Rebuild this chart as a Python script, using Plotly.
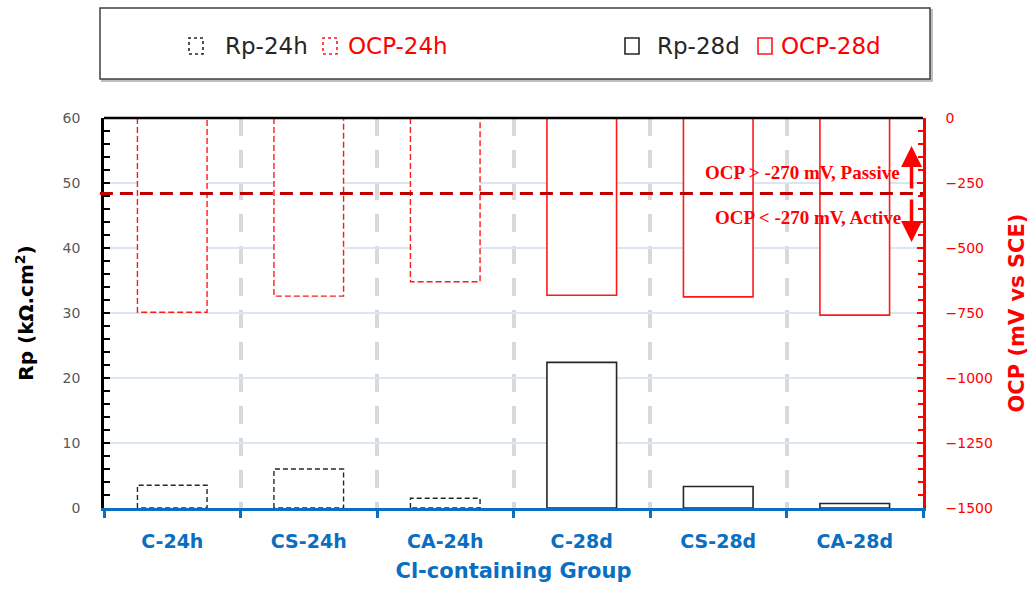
import plotly.graph_objects as go

# ---------------- data ----------------
categories = ["C-24h", "CS-24h", "CA-24h", "C-28d", "CS-28d", "CA-28d"]
idx_24h = [0, 1, 2]
idx_28d = [3, 4, 5]
rp_24h = [3.5, 6.0, 1.5]          # kOhm.cm2
rp_28d = [22.4, 3.3, 0.7]
ocp_24h = [-747, -685, -630]      # mV vs SCE
ocp_28d = [-682, -688, -758]
ocp_threshold_line = -290         # position of the dashed threshold line as drawn
ocp_arrow_up = [-277, -108]
ocp_arrow_down = [-308, -477]
rp_ticks = [0, 10, 20, 30, 40, 50, 60]
ocp_ticks = [-1500, -1250, -1000, -750, -500, -250, 0]
series_names = ["Rp-24h", "OCP-24h", "Rp-28d", "OCP-28d"]

BW = 0.51
BLACK = "#262626"
RED = "#ff1a1a"
BLUE = "#0a6fc2"


def outline(xs, vals):
    ox, oy = [], []
    for x, v in zip(xs, vals):
        ox += [x - BW / 2, x - BW / 2, x + BW / 2, x + BW / 2, x - BW / 2, None]
        oy += [0, v, v, 0, 0, None]
    return ox, oy


fig = go.Figure()

# white-filled bars
fig.add_trace(go.Bar(x=idx_24h, y=rp_24h, width=BW, name=series_names[0], yaxis="y",
                     marker=dict(color="white", line=dict(width=0)), showlegend=False))
fig.add_trace(go.Bar(x=idx_28d, y=rp_28d, width=BW, name=series_names[2], yaxis="y",
                     marker=dict(color="white", line=dict(color=BLACK, width=1.6)), showlegend=False))
fig.add_trace(go.Bar(x=idx_24h, y=ocp_24h, width=BW, name=series_names[1], yaxis="y2",
                     marker=dict(color="white", line=dict(width=0)), showlegend=False))
fig.add_trace(go.Bar(x=idx_28d, y=ocp_28d, width=BW, name=series_names[3], yaxis="y2",
                     marker=dict(color="white", line=dict(color=RED, width=1.6)), showlegend=False))

# dashed outlines for 24h bars
ox, oy = outline(idx_24h, rp_24h)
fig.add_trace(go.Scatter(x=ox, y=oy, mode="lines", yaxis="y", showlegend=False, hoverinfo="skip",
                         line=dict(color=BLACK, width=1.4, dash="5px,3px")))
ox, oy = outline(idx_24h, ocp_24h)
fig.add_trace(go.Scatter(x=ox, y=oy, mode="lines", yaxis="y2", showlegend=False, hoverinfo="skip",
                         line=dict(color=RED, width=1.4, dash="6px,3px")))

fig.update_layout(
    width=1032, height=589,
    margin=dict(l=104, r=109, t=118, b=81, autoexpand=False),
    paper_bgcolor="white", plot_bgcolor="white",
    barmode="overlay",
    font=dict(family="DejaVu Sans", color="#404040"),
    xaxis=dict(
        range=[-0.5, 5.5], tickmode="array", tickvals=list(range(len(categories))),
        ticktext=categories, ticks="", showgrid=False, zeroline=False, automargin=False,
        showline=True, linecolor=BLUE, linewidth=3,
        tickfont=dict(family="DejaVu Sans", size=19, color=BLUE, weight="bold"),
        ticklabelstandoff=14,
        minor=dict(tickmode="linear", tick0=-0.5, dtick=1, ticks="outside", ticklen=7,
                   tickwidth=2.5, tickcolor=BLUE, showgrid=True, gridcolor="#d9d9d9",
                   gridwidth=3.5, griddash="18px,14px"),
        title=dict(text="Cl-containing Group", standoff=13,
                   font=dict(family="DejaVu Sans", size=21, color=BLUE, weight="bold")),
    ),
    yaxis=dict(
        range=[0, 60], tickmode="array", tickvals=rp_ticks, showgrid=True,
        gridcolor="#dce6f2", gridwidth=1.5, zeroline=False, automargin=False,
        showline=True, linecolor="black", linewidth=2.5,
        ticks="inside", ticklen=6, tickwidth=1.5, tickcolor="black",
        minor=dict(tickmode="linear", tick0=0, dtick=2, ticks="inside", ticklen=6,
                   tickwidth=1.5, tickcolor="black", showgrid=False),
        tickfont=dict(family="DejaVu Sans", size=14, color="#595959"),
        ticklabelstandoff=18,
        title=dict(text="Rp (kΩ.cm<sup>2</sup>)", standoff=24,
                   font=dict(family="DejaVu Sans", size=20, color="black", weight="bold")),
    ),
    yaxis2=dict(
        range=[-1500, 0], overlaying="y", side="right", tickmode="array", tickvals=ocp_ticks,
        showgrid=False, zeroline=False, automargin=False,
        showline=True, linecolor="#ff0000", linewidth=2.5,
        ticks="inside", ticklen=6, tickwidth=1.5, tickcolor="#ff0000",
        minor=dict(tickmode="linear", tick0=0, dtick=50, ticks="inside", ticklen=5,
                   tickwidth=1.5, tickcolor="#ff0000", showgrid=False),
        tickfont=dict(family="DejaVu Sans", size=14, color="#ff0000"),
        ticklabelstandoff=17,
        title=dict(text="OCP (mV vs SCE)", standoff=18,
                   font=dict(family="DejaVu Sans", size=21, color="#ff0000", weight="bold")),
    ),
)

# top border of plot area
fig.add_shape(type="line", xref="paper", yref="paper", x0=0, x1=1, y0=1, y1=1,
              line=dict(color="black", width=2.5), layer="above")

# threshold dashed line
fig.add_shape(type="line", xref="paper", yref="y2", x0=-0.005, x1=1,
              y0=ocp_threshold_line, y1=ocp_threshold_line,
              line=dict(color="#c00000", width=3, dash="13px,7px"), layer="above")

fig.add_annotation(x=0.974, xref="paper", y=-210, yref="y2", xanchor="right", yanchor="middle",
                   text="<b>OCP > -270 mV, Passive</b>", showarrow=False,
                   font=dict(family="Liberation Serif", size=19, color="#ff0000"))
fig.add_annotation(x=0.975, xref="paper", y=-382, yref="y2", xanchor="right", yanchor="middle",
                   text="<b>OCP < -270 mV, Active</b>", showarrow=False,
                   font=dict(family="Liberation Serif", size=19, color="#ff0000"))

# arrows
for tail, tip in (ocp_arrow_up, ocp_arrow_down):
    fig.add_annotation(x=0.986, xref="x domain", y=tip, yref="y2",
                       ax=0.986, axref="x domain", ay=tail, ayref="y2",
                       showarrow=True, arrowhead=2, arrowsize=1.2, arrowwidth=3.5,
                       arrowcolor="#ff0000", text="")

# legend box (manual)
px = lambda v: (v - 104) / 819
py = lambda v: (508 - v) / 390
fig.add_shape(type="rect", xref="paper", yref="paper", x0=px(102), x1=px(932), y0=py(81), y1=py(10),
              line=dict(color="#bfbfbf", width=2), fillcolor="#bfbfbf", layer="above")
fig.add_shape(type="rect", xref="paper", yref="paper", x0=px(100), x1=px(930), y0=py(79), y1=py(8),
              line=dict(color="#404040", width=1.5), fillcolor="white", layer="above")

legend_items = [
    (series_names[0], 196, 223, BLACK, "dot", BLACK),
    (series_names[1], 330, 346, RED, "dot", "#ff0000"),
    (series_names[2], 632, 655, BLACK, "solid", BLACK),
    (series_names[3], 765, 779, RED, "solid", "#ff0000"),
]
for name, cx, tx, lc, dash, tc in legend_items:
    fig.add_shape(type="rect", xref="paper", yref="paper",
                  x0=px(cx - 7), x1=px(cx + 7), y0=py(54), y1=py(38),
                  line=dict(color=lc, width=1.6, dash=dash), fillcolor="white", layer="above")
    fig.add_annotation(x=px(tx), y=py(46), xref="paper", yref="paper", xanchor="left",
                       yanchor="middle", text=name, showarrow=False,
                       font=dict(family="DejaVu Sans", size=23, color=tc))

fig.write_html("out.html", config={"displayModeBar": False},
               post_script="document.body.style.margin='0';document.body.style.padding='0';")
